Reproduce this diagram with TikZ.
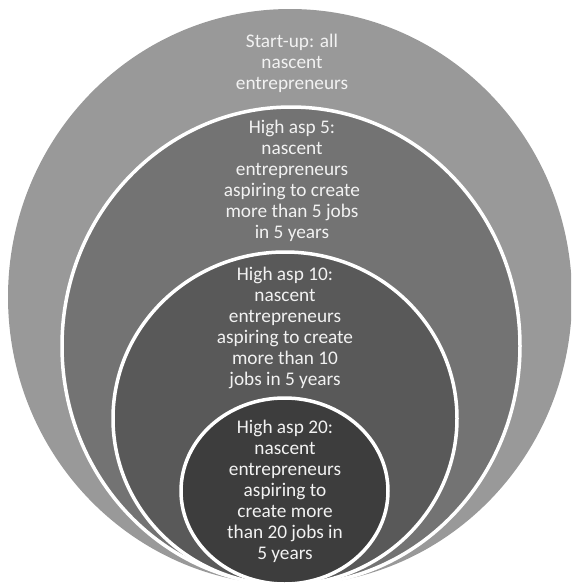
\documentclass[tikz,border=0pt]{standalone}
\usepackage{fontspec}
\setmainfont{Carlito}
\tikzset{
  ring/.style={draw=white, line width=3.5pt},
  lbl/.style={text=white!95!black, align=center, font=\fontsize{19.3}{21.1}\selectfont, inner sep=0pt}
}
\begin{document}
\begin{tikzpicture}[x=1pt,y=-1pt]
\useasboundingbox (0,0) rectangle (571,587);
\clip (0,0) rectangle (571,587);
\fill[fill=black!40] (290,297) ellipse [x radius=282, y radius=288];
\filldraw[ring, fill=black!55] (291,346) ellipse [x radius=229, y radius=239];
\filldraw[ring, fill=black!65] (285,418.5) ellipse [x radius=172, y radius=166.5];
\filldraw[ring, fill=black!76] (284.5,491) ellipse [x radius=103.5, y radius=93];
\node[lbl] (s0) at (292,63.5) {Start-up: all\\nascent\\entrepreneurs};
\node[lbl] (s5) at (292,181) {High asp 5:\\nascent\\entrepreneurs\\aspiring to create\\more than 5 jobs\\in 5 years};
\node[lbl] (s10) at (285,328) {High asp 10:\\nascent\\entrepreneurs\\aspiring to create\\more than 10\\jobs in 5 years};
\node[lbl] (s20) at (285,491.5) {High asp 20:\\nascent\\entrepreneurs\\aspiring to\\create more\\than 20 jobs in\\5 years};
\end{tikzpicture}
\end{document}
